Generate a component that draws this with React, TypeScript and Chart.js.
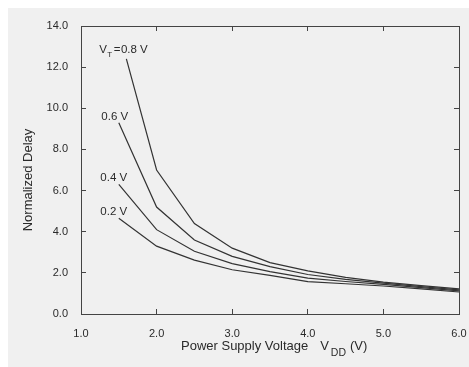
import { useEffect, useRef } from "react";
import { Chart, registerables } from "chart.js";

Chart.register(...registerables);

// ---- data ----
const seriesLabels = ["0.8 V", "0.6 V", "0.4 V", "0.2 V"];
const vddVT08 = [1.6, 2.0, 2.5, 3.0, 3.5, 4.0, 4.5, 5.0, 5.5, 6.0];
const vddOther = [1.5, 2.0, 2.5, 3.0, 3.5, 4.0, 4.5, 5.0, 5.5, 6.0];
const delayVT08 = [12.4, 7.0, 4.4, 3.2, 2.5, 2.1, 1.78, 1.55, 1.38, 1.22];
const delayVT06 = [9.3, 5.2, 3.6, 2.8, 2.3, 1.92, 1.68, 1.5, 1.33, 1.17];
const delayVT04 = [6.3, 4.1, 3.05, 2.45, 2.06, 1.74, 1.58, 1.44, 1.28, 1.12];
const delayVT02 = [4.65, 3.3, 2.62, 2.15, 1.88, 1.57, 1.47, 1.36, 1.22, 1.07];
const xTicks = [1, 2, 3, 4, 5, 6];
const yTicks = [0, 2, 4, 6, 8, 10, 12, 14];
const xTitleMain = "Power Supply Voltage";
const xTitleSymbol = "V";
const xTitleSub = "DD";
const xTitleUnit = "(V)";
const yTitle = "Normalized Delay";

// ---- styles ----
const FONT = '"Liberation Sans", Arial, Helvetica, sans-serif';
const INK = "#2a2a2a";
const AXIS = "#444";
const labelOffsets = [
  { dx: 8, dy: -5.5 },
  { dx: -4, dy: -3 },
  { dx: -5, dy: -3 },
  { dx: -5, dy: -3 },
];

const toPoints = (xs: number[], ys: number[]) => xs.map((x, i) => ({ x, y: ys[i] }));

const annotate = {
  id: "annotate",
  afterDraw(chart: any) {
    const { ctx, chartArea: a } = chart;
    ctx.save();
    ctx.fillStyle = INK;
    ctx.textBaseline = "alphabetic";
    chart.data.datasets.forEach((_ds: any, i: number) => {
      const p = chart.getDatasetMeta(i).data[0];
      const o = labelOffsets[i];
      ctx.font = `11.5px ${FONT}`;
      const t = seriesLabels[i];
      const w = ctx.measureText(t).width;
      const cx = p.x + o.dx;
      const by = p.y + o.dy;
      ctx.textAlign = "left";
      ctx.fillText(t, cx - w / 2, by);
      if (i === 0) {
        let x = cx - w / 2;
        ctx.textAlign = "right";
        ctx.fillText("=", x - 0.5, by);
        x -= ctx.measureText("=").width + 2;
        ctx.font = `8px ${FONT}`;
        ctx.fillText("T", x, by + 4);
        x -= ctx.measureText("T").width + 0.5;
        ctx.font = `11.5px ${FONT}`;
        ctx.fillText("V", x, by);
      }
    });

    // x title with subscript
    ctx.textAlign = "left";
    ctx.font = `13px ${FONT}`;
    let x = a.left + 100;
    const by = a.bottom + 36;
    ctx.fillText(xTitleMain, x, by);
    x += ctx.measureText(xTitleMain).width + 12;
    ctx.fillText(xTitleSymbol, x, by);
    x += ctx.measureText(xTitleSymbol).width + 2;
    ctx.font = `10.5px ${FONT}`;
    ctx.fillText(xTitleSub, x, by + 6);
    x += ctx.measureText(xTitleSub).width + 4;
    ctx.font = `13px ${FONT}`;
    ctx.fillText(xTitleUnit, x, by);

    // y title
    ctx.translate(a.left - 53, (a.top + a.bottom) / 2 + 10);
    ctx.rotate(-Math.PI / 2);
    ctx.textAlign = "center";
    ctx.textBaseline = "middle";
    ctx.font = `13px ${FONT}`;
    ctx.fillText(yTitle, 0, 0);
    ctx.restore();
  },
};

export default function App() {
  const ref = useRef<HTMLCanvasElement>(null);
  useEffect(() => {
    if (!ref.current) return;
    const line = (data: any) => ({
      data,
      borderColor: "#333",
      borderWidth: 1.2,
      pointRadius: 0,
      tension: 0,
      fill: false,
    });
    const tickFont = { family: FONT, size: 11 };
    const grid = { drawOnChartArea: false, tickLength: -5, color: AXIS, lineWidth: 1 };
    const border = { color: AXIS, width: 1 };
    const setX = (s: any) => { s.ticks = xTicks.map((v) => ({ value: v })); };
    const setY = (s: any) => { s.ticks = yTicks.map((v) => ({ value: v })); };
    const fitH = (h: number) => (s: any) => {
      s.height = h;
      s.paddingLeft = 0;
      s.paddingRight = 0;
      s.paddingTop = 0;
      s.paddingBottom = 0;
    };
    const fitW = (w: number) => (s: any) => {
      s.width = w;
      s.paddingLeft = 0;
      s.paddingRight = 0;
      s.paddingTop = 0;
      s.paddingBottom = 0;
    };
    const chart = new Chart(ref.current, {
      type: "line",
      data: {
        datasets: [
          line(toPoints(vddVT08, delayVT08)),
          line(toPoints(vddOther, delayVT06)),
          line(toPoints(vddOther, delayVT04)),
          line(toPoints(vddOther, delayVT02)),
        ],
      },
      options: {
        animation: false,
        responsive: false,
        layout: { padding: { top: 18, right: 10, left: 0, bottom: 0 } },
        plugins: { legend: { display: false }, tooltip: { enabled: false } },
        scales: {
          x: {
            type: "linear",
            position: "bottom",
            min: 1,
            max: 6,
            afterBuildTicks: setX,
            ticks: { font: tickFont, color: INK, padding: 18, maxRotation: 0, callback: (v: any) => Number(v).toFixed(1) },
            grid,
            border,
            afterFit: fitH(53),
          },
          x2: {
            type: "linear",
            position: "top",
            min: 1,
            max: 6,
            afterBuildTicks: setX,
            ticks: { display: false },
            grid,
            border,
            afterFit: fitH(0),
          },
          y: {
            type: "linear",
            position: "left",
            min: 0,
            max: 14,
            afterBuildTicks: setY,
            ticks: { font: tickFont, color: INK, padding: 18, callback: (v: any) => Number(v).toFixed(1) },
            grid,
            border,
            afterFit: fitW(73),
          },
          y2: {
            type: "linear",
            position: "right",
            min: 0,
            max: 14,
            afterBuildTicks: setY,
            ticks: { display: false },
            grid,
            border,
            afterFit: fitW(0),
          },
        },
      } as any,
      plugins: [annotate],
    });
    return () => chart.destroy();
  }, []);
  return (
    <div style={{ position: "fixed", left: 8, top: 8, width: 461, height: 359, background: "#f0f0f0" }}>
      <canvas ref={ref} width={461} height={359} style={{ display: "block" }} />
    </div>
  );
}
